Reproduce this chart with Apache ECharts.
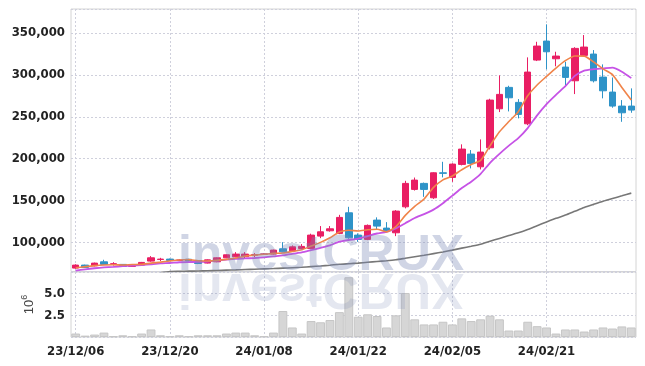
<!DOCTYPE html>
<html><head><meta charset="utf-8">
<script src="https://cdn.jsdelivr.net/npm/echarts@6/dist/echarts.min.js"></script>
<style>html,body{margin:0;padding:0;background:#fff}#c{width:645px;height:366px}</style>
</head><body><div id="c"></div>
<script>
const dates = ['23/12/06','23/12/07','23/12/08','23/12/11','23/12/12','23/12/13','23/12/14','23/12/15','23/12/18','23/12/19',
 '23/12/20','23/12/21','23/12/22','23/12/26','23/12/27','23/12/28','24/01/02','24/01/03','24/01/04','24/01/05',
 '24/01/08','24/01/09','24/01/10','24/01/11','24/01/12','24/01/15','24/01/16','24/01/17','24/01/18','24/01/19',
 '24/01/22','24/01/23','24/01/24','24/01/25','24/01/26','24/01/29','24/01/30','24/01/31','24/02/01','24/02/02',
 '24/02/05','24/02/06','24/02/07','24/02/08','24/02/13','24/02/14','24/02/15','24/02/16','24/02/19','24/02/20',
 '24/02/21','24/02/22','24/02/23','24/02/26','24/02/27','24/02/28','24/02/29','24/03/04','24/03/05','24/03/06'];

const openP = [69450,73030,72200,76970,74300,73870,71480,73030,77800,79700,
 80190,78600,80000,78560,75460,76970,81740,82940,83000,84800,
 86000,86160,92480,90100,92880,92960,107640,113960,110860,135440,
 108830,103700,126730,117180,111580,142600,163360,170520,153340,183170,
 177680,193200,205490,190330,213010,259540,285080,267180,241640,317660,
 340330,319210,309300,292960,323270,324820,297370,279470,262760,262760];
const closeP = [73030,70300,75400,73870,74600,71480,73030,76250,81740,80190,
 78640,79200,77900,74980,79300,81740,85320,86160,86160,85500,
 86300,90930,88900,94870,95350,108830,112770,116350,129950,105610,
 103700,120400,119570,114000,137470,170520,174460,163360,183170,182500,
 193550,211450,194390,207870,269930,276730,272670,252860,303340,334370,
 327560,322430,297010,331620,333170,292960,281020,262760,254770,257990];
const lowP = [68500,69800,71500,73000,72500,71000,71000,72500,77000,77800,
 78000,78000,77500,74200,75000,76500,81200,82500,80900,82600,
 85500,85700,88300,89500,92000,92000,105200,113000,110000,104500,
 100800,102800,115600,113500,107600,140700,162000,154500,152000,177700,
 172400,192000,188400,187200,211000,255600,256400,248100,240000,316500,
 306600,310200,287800,277100,322000,291000,272000,260800,244000,254800];
const highP = [74000,73500,76000,79400,76500,74300,73500,76800,83800,81700,
 80800,80000,80500,79000,79800,82200,85800,88500,88500,87300,
 87000,91500,100400,96500,98100,110500,119600,119600,133000,142600,
 110900,121500,130000,124300,138600,173600,177500,171500,183800,196300,
 194500,217100,210300,223000,271500,299400,287000,271100,320900,339500,
 360300,327600,315600,333000,347500,329600,312500,296900,269900,283900];
const volumeM = [0.40,0.16,0.28,0.51,0.08,0.20,0.08,0.40,0.87,0.20,
 0.08,0.20,0.08,0.20,0.20,0.20,0.40,0.51,0.51,0.20,
 0.08,0.51,3.00,1.10,0.40,1.84,1.70,1.96,2.87,6.90,
 2.34,2.62,2.42,1.10,2.50,5.08,2.04,1.45,1.45,1.76,
 1.45,2.15,1.84,2.04,2.46,2.04,0.75,0.75,1.76,1.25,
 1.10,0.40,0.87,0.87,0.63,0.87,1.10,0.98,1.22,1.10];
const ma5 = [69800,71200,72400,73200,73440,73130,73680,73850,75420,76540,
 77970,79200,79530,78180,78000,78620,79850,81500,83740,84980,
 85890,87010,87560,89300,91270,95780,100140,105630,112650,114700,
 113680,115200,115850,112660,119030,132390,143200,151960,165800,174800,
 179410,186810,193010,197950,215440,232070,244320,256010,275110,287990,
 298160,308110,316940,322600,322360,315440,307160,300310,284940,269900];
const ma10 = [66500,68000,69300,70300,71000,71700,72300,73000,74000,74990,
 75550,76440,76690,76800,77270,78300,79530,80520,80960,81490,
 82260,83430,84530,86520,88120,90830,93580,96600,100980,102990,
 104730,107670,110740,112650,116870,123030,129200,133900,139230,146920,
 155900,165010,172490,181870,195120,205740,215560,224510,236530,251720,
 265120,276220,286480,298850,305180,306800,307630,308620,303770,296130];
const ma60 = [null,null,null,null,null,null,null,null,null,63800,
 65300,65600,65800,66000,66300,66600,67000,67300,67700,68100,
 68500,68900,69400,69900,70400,71200,72000,72900,74000,74700,
 75400,76400,77300,78200,79400,81200,83000,84700,86700,88700,
 90900,93300,95500,97900,101400,104900,108400,111600,115600,120100,
 124500,128800,132700,137200,141700,145500,149200,152500,155700,158900];

const candles = openP.map((o, i) => [o, closeP[i], lowP[i], highP[i]]);

const FONT = '"Liberation Sans Narrow", "DejaVu Sans Condensed", "Roboto Condensed", Roboto, sans-serif';
const splitStyle = {color: '#cfd0dc', type: [2, 2], width: 1};
const chart = echarts.init(document.getElementById('c'), null, {renderer: 'canvas'});
chart.setOption({
  animation: false,
  grid: [
    {left: 71, right: 9, top: 9, height: 262.5, show: true, borderColor: '#d4d4d4', borderWidth: 1},
    {left: 71, right: 9, top: 272, height: 65, show: true, borderColor: '#d4d4d4', borderWidth: 1}
  ],
  xAxis: [
    {type: 'category', gridIndex: 0, data: dates, boundaryGap: true,
     axisLine: {show: false}, axisTick: {show: false}, axisLabel: {show: false},
     splitLine: {show: true, interval: 9, alignWithLabel: true, lineStyle: splitStyle}},
    {type: 'category', gridIndex: 1, data: dates, boundaryGap: true,
     axisLine: {show: false}, axisTick: {show: false},
     axisLabel: {show: true, interval: 9, fontFamily: FONT, fontSize: 13, fontWeight: 'bold', color: '#222', margin: 8},
     splitLine: {show: true, interval: 9, alignWithLabel: true, lineStyle: splitStyle}}
  ],
  yAxis: [
    {type: 'value', gridIndex: 0, min: 65400, max: 378600,
     axisLine: {show: false}, axisTick: {show: false},
     axisLabel: {fontFamily: FONT, fontSize: 13, fontWeight: 'bold', color: '#222', margin: 6, showMinLabel: false, showMaxLabel: false,
       formatter: v => (v % 50000 === 0 ? v.toLocaleString('en-US') : '')},
     splitLine: {show: true, lineStyle: splitStyle}},
    {type: 'value', gridIndex: 1, min: 0, max: 7.5, interval: 2.5,
     axisLine: {show: false}, axisTick: {show: false},
     axisLabel: {fontFamily: FONT, fontSize: 13, fontWeight: 'bold', color: '#222', margin: 6,
       formatter: v => ((v === 0 || v === 7.5) ? '' : v.toFixed(1))},
     splitLine: {show: true, lineStyle: splitStyle},
     name: '{n|10}{s|6}', nameLocation: 'middle', nameRotate: 90, nameGap: 35, nameMoveOverlap: false,
     nameTextStyle: {rich: {
       n: {fontFamily: 'Liberation Sans', fontSize: 13, color: '#444', verticalAlign: 'bottom', lineHeight: 16},
       s: {fontFamily: 'Liberation Sans', fontSize: 9, color: '#444', verticalAlign: 'top', lineHeight: 16}
     }}}
  ],
  series: [
    {type: 'candlestick', xAxisIndex: 0, yAxisIndex: 0, data: candles, barWidth: 7,
     itemStyle: {color: '#e91e63', color0: '#2e93c8', borderColor: '#e91e63', borderColor0: '#2e93c8', borderWidth: 1}},
    {type: 'line', xAxisIndex: 0, yAxisIndex: 0, data: ma60, showSymbol: false, smooth: 0.2, clip: true,
     lineStyle: {color: '#777777', width: 1.6}, z: 3},
    {type: 'line', xAxisIndex: 0, yAxisIndex: 0, data: ma10, showSymbol: false, smooth: 0.2, clip: true,
     lineStyle: {color: '#c653e6', width: 1.8}, z: 3},
    {type: 'line', xAxisIndex: 0, yAxisIndex: 0, data: ma5, showSymbol: false, smooth: 0.2, clip: true,
     lineStyle: {color: '#f0844a', width: 1.6}, z: 3},
    {type: 'bar', xAxisIndex: 1, yAxisIndex: 1, data: volumeM, barCategoryGap: '6%',
     itemStyle: {color: '#d6d6d6', borderColor: '#c6c6c6', borderWidth: 1}}
  ],
  graphic: [
    {type: 'text', x: 321, y: 256, z: 100, silent: true,
     style: {text: 'investCRUX', font: 'bold 50px "Liberation Sans"', fill: 'rgba(120,135,180,0.35)',
             align: 'center', verticalAlign: 'middle', textAlign: 'center', textVerticalAlign: 'middle'}},
    {type: 'text', x: 321, y: 288, scaleY: -1, z: 100, silent: true,
     style: {text: 'investCRUX', font: 'bold 50px "Liberation Sans"', fill: 'rgba(120,135,180,0.2)',
             align: 'center', verticalAlign: 'middle', textAlign: 'center', textVerticalAlign: 'middle'}}
  ]
});
</script></body></html>
